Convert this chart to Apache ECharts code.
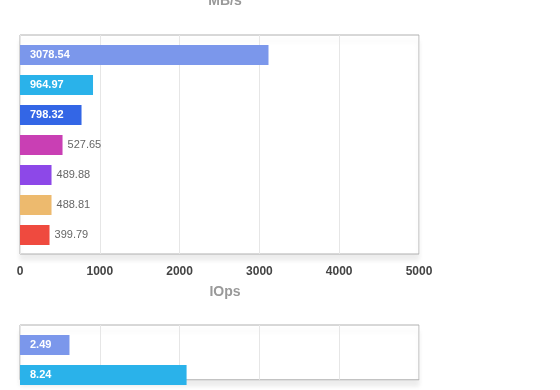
<!DOCTYPE html>
<html>
<head>
<meta charset="utf-8">
<script src="https://cdn.jsdelivr.net/npm/echarts@6/dist/echarts.min.js"></script>
<style>html,body{margin:0;padding:0;background:#fff}#c{width:560px;height:390px}</style>
</head>
<body>
<div id="c"></div>
<script>
var categories = ['Drive A', 'Drive B', 'Drive C', 'Drive D', 'Drive E', 'Drive F', 'Drive G'];
// bar lengths
var mbsBarValues = [3114, 915, 771, 533, 395, 395, 370];
// value labels as printed on the picture
var mbsLabels = ['3078.54', '964.97', '798.32', '527.65', '489.88', '488.81', '399.79'];
var iopsCategories = ['Drive A', 'Drive B'];
var iopsBarValues = [2.48, 8.35];
var iopsLabels = ['2.49', '8.24'];
var colors = ['#7b97eb', '#2ab2ea', '#3366e6', '#c93fb4', '#8d48e8', '#edba6e', '#ef4a3f'];
var mbsTicks = [0, 1000, 2000, 3000, 4000, 5000];
var iopsTicks = [0, 4, 8, 12, 16, 20];

var FONT = 'Liberation Sans, Arial, sans-serif';

function makeData(vals, labels, thr) {
  return vals.map(function (v, i) {
    var inside = v >= thr;
    return {
      value: v,
      itemStyle: { color: colors[i] },
      label: inside
        ? { position: 'insideLeft', distance: 10, color: '#fff', fontWeight: 'bold', formatter: labels[i] }
        : { position: 'right', distance: 5, color: '#666', formatter: labels[i] }
    };
  });
}

var borderGrid = { show: true, borderColor: '#b0b0b0', borderWidth: 1, backgroundColor: '#fff',
  shadowColor: 'rgba(0,0,0,0.08)', shadowBlur: 5, shadowOffsetY: 6 };

var tickLabel = { margin: 12, fontSize: 12, fontWeight: 'bold', color: '#444', fontFamily: FONT,
  formatter: function (v) { return String(v); } };

var chart = echarts.init(document.getElementById('c'), null, { renderer: 'canvas' });
chart.setOption({
  animation: false,
  textStyle: { fontFamily: FONT },
  title: [
    { text: 'MB/s', left: 220, textAlign: 'center', top: -11,
      textStyle: { fontSize: 14, fontWeight: 'bold', color: '#999', fontFamily: FONT } },
    { text: 'IOps', left: 220, textAlign: 'center', top: 280,
      textStyle: { fontSize: 14, fontWeight: 'bold', color: '#999', fontFamily: FONT } }
  ],
  grid: [
    Object.assign({ left: 20, top: 35, width: 399, height: 219 }, borderGrid),
    { left: 20, top: 40, width: 399, height: 210 },
    Object.assign({ left: 20, top: 325, width: 399, height: 219 }, borderGrid),
    { left: 20, top: 330, width: 399, height: 60 }
  ],
  xAxis: [
    { gridIndex: 0, type: 'value', min: mbsTicks[0], max: mbsTicks[mbsTicks.length - 1], interval: 1000,
      axisLine: { show: false }, axisTick: { show: false }, axisLabel: tickLabel,
      splitLine: { show: true, lineStyle: { color: '#e6e6e6', width: 1 } } },
    { gridIndex: 1, type: 'value', min: mbsTicks[0], max: mbsTicks[mbsTicks.length - 1], show: false,
      splitLine: { show: false } },
    { gridIndex: 2, type: 'value', min: iopsTicks[0], max: iopsTicks[iopsTicks.length - 1], interval: 4,
      axisLine: { show: false }, axisTick: { show: false }, axisLabel: tickLabel,
      splitLine: { show: true, lineStyle: { color: '#e6e6e6', width: 1 } } },
    { gridIndex: 3, type: 'value', min: iopsTicks[0], max: iopsTicks[iopsTicks.length - 1], show: false,
      splitLine: { show: false } }
  ],
  yAxis: [
    { gridIndex: 0, type: 'category', data: categories, show: false },
    { gridIndex: 1, type: 'category', data: categories, inverse: true, show: false },
    { gridIndex: 2, type: 'category', data: categories, show: false },
    { gridIndex: 3, type: 'category', data: iopsCategories, inverse: true, show: false }
  ],
  series: [
    { type: 'bar', xAxisIndex: 1, yAxisIndex: 1, barWidth: 20, data: makeData(mbsBarValues, mbsLabels, 700),
      label: { show: true, fontSize: 11, fontFamily: FONT } },
    { type: 'bar', xAxisIndex: 3, yAxisIndex: 3, barWidth: 20, data: makeData(iopsBarValues, iopsLabels, 1),
      label: { show: true, fontSize: 11, fontFamily: FONT } }
  ]
});
</script>
</body>
</html>
